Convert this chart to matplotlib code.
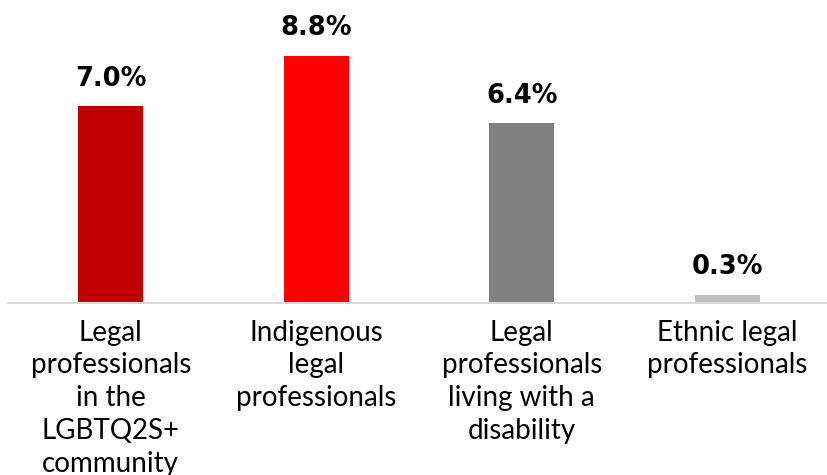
import matplotlib.pyplot as plt

# share of legal professionals, by group (percent)
groups = ["Legal\nprofessionals\nin the\nLGBTQ2S+\ncommunity",
          "Indigenous\nlegal\nprofessionals",
          "Legal\nprofessionals\nliving with a\ndisability",
          "Ethnic legal\nprofessionals"]
values = [7.0, 8.8, 6.4, 0.3]
colors = ["#C00000", "#FF0000", "#808080", "#BFBFBF"]

fig = plt.figure(figsize=(8.27, 4.75), dpi=100)
ax = fig.add_axes([8 / 827, 172 / 475, 822 / 827, 281 / 475])

x = range(len(values))
bars = ax.bar(x, values, width=0.316, color=colors)

# value labels above bars
for b, v in zip(bars, values):
    ax.annotate(f"{v:.1f}%", (b.get_x() + b.get_width() / 2, v),
                xytext=(0, 10.5), textcoords="offset points",
                ha="center", va="bottom", fontsize=18.5, fontweight="bold",
                family="DejaVu Sans")

ax.set_xlim(-0.5, 3.5)
ax.set_ylim(0, 10)
ax.set_xticks(list(x))
ax.set_xticklabels(groups, fontsize=20, family="Lato", linespacing=1.32)
ax.tick_params(axis="x", length=0, pad=12)
ax.set_yticks([])

for s in ["top", "right", "left"]:
    ax.spines[s].set_visible(False)
ax.spines["bottom"].set_color("#D9D9D9")
ax.spines["bottom"].set_linewidth(1.5)

fig.savefig("out.png", dpi=100)
